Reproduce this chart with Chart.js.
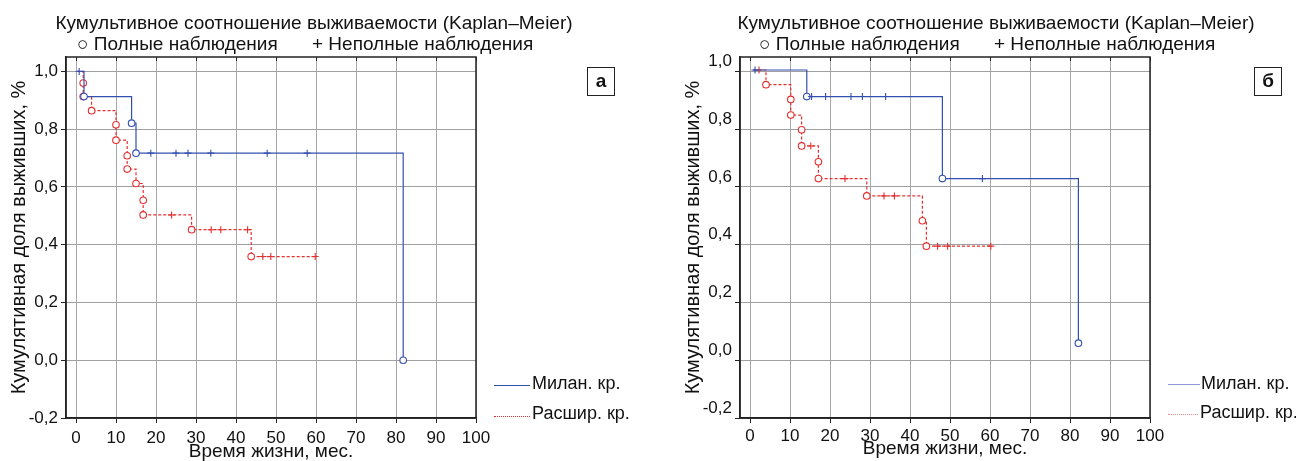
<!DOCTYPE html>
<html>
<head>
<meta charset="utf-8">
<script src="https://cdn.jsdelivr.net/npm/chart.js@4.4.1/dist/chart.umd.min.js"></script>
<style>
  body { margin: 0; background: #fff; }
  #wrap { position: relative; width: 1296px; height: 461px; overflow: hidden;
          font-family: "Liberation Sans", Arial, sans-serif; color: #111; }
  canvas { position: absolute; top: 0; }
  .t { position: absolute; white-space: nowrap; font-size: 19px; line-height: 1; }
  .c { transform: translateX(-50%); }
  .lg { position: absolute; white-space: nowrap; font-size: 18px; line-height: 1; }
  .ln { position: absolute; height: 0; }
  .box { position: absolute; width: 26px; height: 27px; border: 1.5px solid #222;
         font-weight: bold; font-size: 19px; line-height: 26px; text-align: center; }
</style>
</head>
<body>
<div id="wrap">
  <canvas id="chartA" width="640" height="461" style="left:0"></canvas>
  <canvas id="chartB" width="648" height="461" style="left:648px"></canvas>

  <div class="t c" style="left:314px;top:13px">Кумультивное соотношение выживаемости (Kaplan–Meier)</div>
  <div class="t" style="left:77px;top:34px">○ Полные наблюдения</div>
  <div class="t" style="left:312px;top:34px">+ Неполные наблюдения</div>
  <div class="box" style="left:587px;top:67px">а</div>
  <div class="ln" style="left:494px;top:385px;width:36px;border-top:1.3px solid #3350b0"></div>
  <div class="lg" style="left:532px;top:374px">Милан. кр.</div>
  <div class="ln" style="left:494px;top:416px;width:36px;border-top:1.3px dotted #e53030"></div>
  <div class="lg" style="left:532px;top:404px">Расшир. кр.</div>

  <div class="t c" style="left:996px;top:13px">Кумультивное соотношение выживаемости (Kaplan–Meier)</div>
  <div class="t" style="left:759px;top:34px">○ Полные наблюдения</div>
  <div class="t" style="left:994px;top:34px">+ Неполные наблюдения</div>
  <div class="box" style="left:1254px;top:67px">б</div>
  <div class="ln" style="left:1168px;top:384px;width:32px;border-top:1.3px solid #8d9bd3"></div>
  <div class="lg" style="left:1201px;top:374px">Милан. кр.</div>
  <div class="ln" style="left:1168px;top:414px;width:30px;border-top:1.3px dotted #f08f8f"></div>
  <div class="lg" style="left:1200px;top:403px">Расшир. кр.</div>
</div>
<script>
// axis ticks
const xTicks = [0, 10, 20, 30, 40, 50, 60, 70, 80, 90, 100];
const yTicks = [-0.2, 0, 0.2, 0.4, 0.6, 0.8, 1.0];
const seriesNames = ['Милан. кр.', 'Расшир. кр.'];

// panel а  (o = complete observation, + = censored, '' = start of curve)
const milanA_t = [0.2, 0.8, 2.0, 13.9, 15.0, 18.7, 25.0, 28.0, 33.7, 47.8, 57.8, 81.8];
const milanA_s = [1.0, 1.0, 0.913, 0.821, 0.717, 0.717, 0.717, 0.717, 0.717, 0.717, 0.717, 0.0];
const milanA_m = ['', '+', 'o', 'o', 'o', '+', '+', '+', '+', '+', '+', 'o'];

const rasA_t = [0.2, 1.8, 1.8, 3.9, 10.0, 10.0, 12.8, 12.8, 15.0, 16.8, 16.8, 23.9, 28.9, 33.8, 36.2, 42.9, 43.8, 46.7, 48.7, 59.8];
const rasA_s = [1.0, 0.96, 0.913, 0.864, 0.815, 0.762, 0.708, 0.662, 0.612, 0.554, 0.503, 0.503, 0.452, 0.452, 0.452, 0.452, 0.359, 0.359, 0.359, 0.359];
const rasA_m = ['', 'o', 'o', 'o', 'o', 'o', 'o', 'o', 'o', 'o', 'o', '+', 'o', '+', '+', '+', 'o', '+', '+', '+'];

// panel б
const milanB_t = [0.8, 1.25, 14.2, 15.4, 18.9, 25.25, 28.1, 33.9, 48.1, 58.1, 82.1];
const milanB_s = [1.005, 1.005, 0.913, 0.913, 0.913, 0.913, 0.913, 0.913, 0.629, 0.629, 0.059];
const milanB_m = ['', '+', 'o', '+', '+', '+', '+', '+', 'o', '+', 'o'];

const rasB_t = [0.8, 2.25, 4.0, 10.2, 10.2, 12.9, 12.9, 15.2, 17.1, 17.1, 23.75, 29.2, 33.5, 36.1, 43.1, 44.1, 46.9, 49.4, 60.2];
const rasB_s = [1.005, 1.005, 0.954, 0.903, 0.849, 0.798, 0.742, 0.742, 0.687, 0.629, 0.629, 0.569, 0.569, 0.569, 0.483, 0.395, 0.395, 0.395, 0.395];
const rasB_m = ['', '+', 'o', 'o', 'o', 'o', 'o', '+', 'o', 'o', '+', 'o', '+', '+', 'o', 'o', '+', '+', '+'];

const blue = '#3350b0';
const red = '#e53030';

Chart.defaults.font.family = '"Liberation Sans", Arial, sans-serif';
Chart.defaults.color = '#111';

function makeSet(label, t, s, m, color, dash) {
  return {
    label: label,
    data: t.map((x, i) => ({ x: x, y: s[i] })),
    borderColor: color,
    borderWidth: 1.2,
    borderDash: dash,
    stepped: true,
    fill: false,
    pointStyle: m.map(k => k === 'o' ? 'circle' : 'cross'),
    pointRadius: m.map(k => k === 'o' ? 3.3 : (k === '+' ? 3.5 : 0)),
    pointBorderColor: color,
    pointBackgroundColor: '#fff',
    pointBorderWidth: 1.1
  };
}

// closes the plot box and puts small ticks on its top edge
const framePlugin = {
  id: 'frame',
  afterDraw(chart) {
    const a = chart.chartArea, ctx = chart.ctx, xs = chart.scales.x;
    ctx.save();
    ctx.strokeStyle = '#222';
    ctx.lineWidth = 1.5;
    ctx.strokeRect(a.left, a.top, a.right - a.left, a.bottom - a.top);
    ctx.lineWidth = 1;
    xTicks.forEach(v => {
      const px = Math.round(xs.getPixelForValue(v)) + 0.5;
      ctx.beginPath();
      ctx.moveTo(px, a.top);
      ctx.lineTo(px, a.top + 4);
      ctx.stroke();
    });
    ctx.restore();
  }
};

function makeChart(id, sets, o) {
  return new Chart(document.getElementById(id), {
    type: 'line',
    data: { datasets: sets },
    options: {
      responsive: false,
      animation: false,
      events: [],
      layout: { padding: { top: 57, right: o.rightPad, left: 0, bottom: 0 } },
      plugins: { legend: { display: false }, tooltip: { enabled: false } },
      scales: {
        x: {
          type: 'linear', min: -2.5, max: 100,
          afterBuildTicks: s => { s.ticks = xTicks.map(v => ({ value: v })); },
          afterFit: s => { s.height = 43; },
          grid: { color: '#a8a8a8', tickLength: 5, tickColor: '#222' },
          border: { color: '#222', width: 1.5 },
          ticks: { font: { size: 17 }, padding: o.xTickPad, maxRotation: 0, autoSkip: false },
          title: { display: true, text: 'Время жизни, мес.', font: { size: 19, lineHeight: 1 },
                   padding: { top: 0, bottom: o.xTitlePad } }
        },
        y: {
          type: 'linear', min: -0.2, max: 1.05,
          afterBuildTicks: s => { s.ticks = yTicks.map(v => ({ value: v })); },
          afterFit: s => { s.width = o.yWidth; },
          grid: { color: '#a0a0a0', tickLength: 5, tickColor: '#222' },
          border: { color: '#222', width: 1.5 },
          ticks: { font: { size: 17 }, padding: 3, labelOffset: o.yLabelOffset,
                   callback: v => v.toFixed(1).replace('.', ',') },
          title: { display: true, text: 'Кумулятивная доля выживших, %', font: { size: 20, lineHeight: 1 },
                   padding: { top: o.yTitlePad, bottom: 0 } }
        }
      }
    },
    plugins: [framePlugin]
  });
}

makeChart('chartA', [
  makeSet(seriesNames[0], milanA_t, milanA_s, milanA_m, blue, []),
  makeSet(seriesNames[1], rasA_t, rasA_s, rasA_m, red, [3, 2])
], { rightPad: 164, yWidth: 66, yLabelOffset: 0, yTitlePad: 9, xTitlePad: 0, xTickPad: 5 });

makeChart('chartB', [
  makeSet(seriesNames[0], milanB_t, milanB_s, milanB_m, blue, []),
  makeSet(seriesNames[1], rasB_t, rasB_s, rasB_m, red, [3, 2])
], { rightPad: 146, yWidth: 92, yLabelOffset: -10, yTitlePad: 35, xTitlePad: 3, xTickPad: 3 });
</script>
</body>
</html>
